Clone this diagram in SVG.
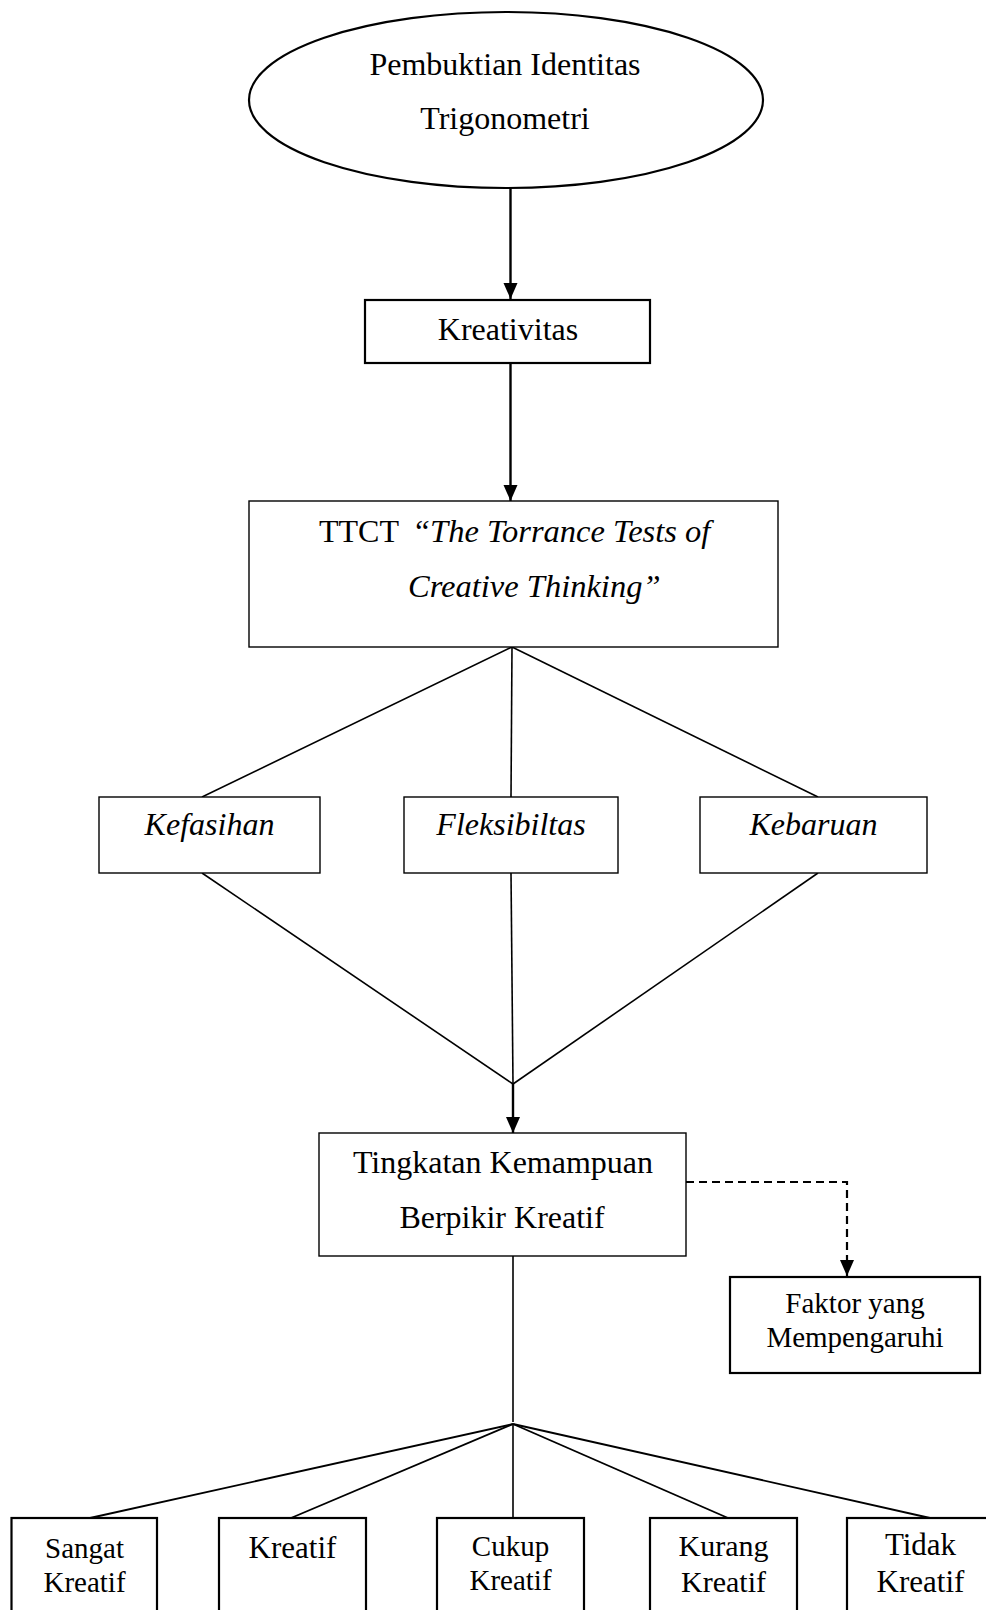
<svg xmlns="http://www.w3.org/2000/svg" width="986" height="1610" viewBox="0 0 986 1610">
<style>
text{font-family:"Liberation Serif","Times New Roman",serif;fill:#000}
.c{text-anchor:middle}
.i{font-style:italic}
.f32{font-size:32px}
.f31{font-size:31px}
.f29{font-size:29px}
.thick{fill:#fff;stroke:#000;stroke-width:2.2}
.thin{fill:#fff;stroke:#000;stroke-width:1.4}
.ln{stroke:#000;stroke-width:1.6;fill:none}
.arr{stroke:#000;stroke-width:2.4;fill:none}
.dash{stroke:#000;stroke-width:2.2;fill:none;stroke-dasharray:8 5}
</style>
<defs>
<marker id="ah" markerUnits="userSpaceOnUse" markerWidth="16" markerHeight="16" viewBox="0 0 16 16" refX="16" refY="8" orient="auto">
<polygon points="0,1 16,8 0,15" fill="#000"/>
</marker>
</defs>
<rect width="986" height="1610" fill="#fff"/>
<g id="connectors">
<line class="arr" x1="510.5" y1="188" x2="510.5" y2="299" marker-end="url(#ah)"/>
<line class="arr" x1="510.5" y1="363" x2="510.5" y2="501" marker-end="url(#ah)"/>
<line class="ln" x1="512" y1="647" x2="202" y2="797"/>
<line class="ln" x1="512" y1="647" x2="511" y2="797"/>
<line class="ln" x1="512" y1="647" x2="818" y2="797"/>
<line class="ln" x1="202" y1="873" x2="513" y2="1084"/>
<line class="ln" x1="511" y1="873" x2="513" y2="1084"/>
<line class="ln" x1="818" y1="873" x2="513" y2="1084"/>
<line class="arr" x1="513" y1="1084" x2="513" y2="1133" marker-end="url(#ah)"/>
<path class="dash" d="M686,1182 H847 V1276" marker-end="url(#ah)"/>
<line class="ln" x1="513" y1="1256" x2="513" y2="1422"/>
<line class="ln" x1="513" y1="1424" x2="513" y2="1518"/>
<line class="arr" style="stroke-width:1.9" x1="513" y1="1424" x2="90" y2="1518"/>
<line class="arr" style="stroke-width:1.9" x1="513" y1="1424" x2="291" y2="1518"/>
<line class="arr" style="stroke-width:1.9" x1="513" y1="1424" x2="728" y2="1518"/>
<line class="arr" style="stroke-width:1.9" x1="513" y1="1424" x2="930" y2="1518"/>
</g>
<g id="n-pembuktian">
<ellipse class="thick" cx="506" cy="100" rx="257" ry="88"/>
<text class="c f32" x="505" y="75">Pembuktian Identitas</text>
<text class="c f32" x="505" y="129">Trigonometri</text>
</g>
<g id="n-kreativitas">
<rect class="thick" x="365" y="300" width="285" height="63"/>
<text class="c f32" x="508" y="340">Kreativitas</text>
</g>
<g id="n-ttct">
<rect class="thin" x="249" y="501" width="529" height="146"/>
<text style="font-size:32px" y="542"><tspan x="319">TTCT</tspan><tspan class="i" style="font-size:32.5px" x="412">“The Torrance Tests of</tspan></text>
<text class="i" style="font-size:32.5px" x="408" y="597">Creative Thinking”</text>
</g>
<g id="n-kefasihan">
<rect class="thin" x="99" y="797" width="221" height="76"/>
<text class="c f32 i" x="209.5" y="835">Kefasihan</text>
</g>
<g id="n-fleksibiltas">
<rect class="thin" x="404" y="797" width="214" height="76"/>
<text class="c f32 i" x="511" y="835">Fleksibiltas</text>
</g>
<g id="n-kebaruan">
<rect class="thin" x="700" y="797" width="227" height="76"/>
<text class="c f32 i" x="813.5" y="835">Kebaruan</text>
</g>
<g id="n-tingkatan">
<rect class="thin" x="319" y="1133" width="367" height="123"/>
<text class="c f32" x="503" y="1173">Tingkatan Kemampuan</text>
<text class="c f32" x="502" y="1228">Berpikir Kreatif</text>
</g>
<g id="n-faktor">
<rect class="thick" x="730" y="1277" width="250" height="96"/>
<text class="c f29" x="855" y="1313">Faktor yang</text>
<text class="c f29" x="855" y="1347">Mempengaruhi</text>
</g>
<g id="n-sangat">
<rect class="thick" x="11.5" y="1518" width="145.5" height="110"/>
<text class="c f29" x="84.5" y="1558">Sangat</text>
<text class="c f29" x="84.5" y="1592">Kreatif</text>
</g>
<g id="n-kreatif">
<rect class="thick" x="219" y="1518" width="147" height="110"/>
<text class="c f31" x="292.5" y="1558">Kreatif</text>
</g>
<g id="n-cukup">
<rect class="thick" x="437" y="1518" width="147" height="110"/>
<text class="c f29" x="510.5" y="1556">Cukup</text>
<text class="c f29" x="510.5" y="1590">Kreatif</text>
</g>
<g id="n-kurang">
<rect class="thick" x="650" y="1518" width="147" height="110"/>
<text class="c" style="font-size:30px" x="723.5" y="1556">Kurang</text>
<text class="c" style="font-size:30px" x="723.5" y="1592">Kreatif</text>
</g>
<g id="n-tidak">
<rect class="thick" x="847" y="1518" width="147" height="110"/>
<text class="c f31" x="920.5" y="1555">Tidak</text>
<text class="c f31" x="920.5" y="1592">Kreatif</text>
</g>
</svg>
